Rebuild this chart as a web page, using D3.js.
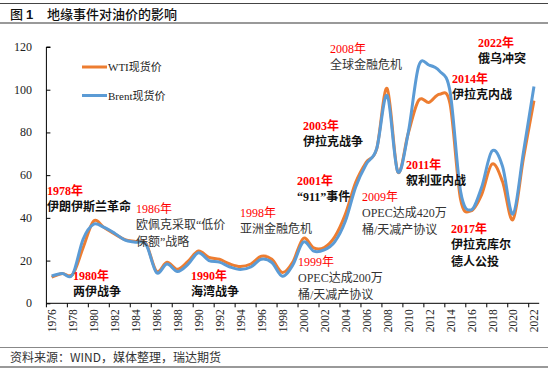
<!DOCTYPE html>
<html>
<head>
<meta charset="utf-8">
<script src="https://cdn.jsdelivr.net/npm/d3@7"></script>
<style>
  body { margin: 0; background: #fff; }
  svg { display: block; }
</style>
</head>
<body>
<div id="chart"></div>
<script>
// annual average spot prices, USD/bbl
var years = d3.range(1976, 2023);
var wti = [12.2, 14.0, 13.5, 26.0, 38.5, 35.5, 32.5, 29.8, 29.0, 28.0,
           15.0, 19.2, 15.9, 19.6, 24.5, 21.5, 20.6, 18.4, 17.2, 18.4,
           22.0, 20.6, 14.4, 19.3, 30.4, 25.9, 26.1, 31.1, 41.5, 56.6,
           66.0, 72.3, 100.6, 61.7, 79.4, 95.0, 94.1, 97.9, 93.3, 48.7,
           43.3, 50.8, 65.2, 57.0, 39.2, 68.0, 94.9];
var brent = [12.8, 13.9, 13.5, 30.0, 37.0, 35.5, 32.8, 29.6, 28.6, 27.6,
             14.4, 18.4, 14.9, 18.2, 23.7, 20.0, 19.3, 17.0, 15.8, 17.0,
             20.6, 19.1, 12.7, 17.9, 28.7, 24.4, 25.0, 28.8, 38.3, 54.5,
             65.1, 72.4, 97.3, 61.7, 79.6, 111.0, 111.5, 108.7, 99.0, 52.4,
             43.7, 54.2, 71.3, 64.2, 41.8, 70.9, 101.5];
var yTicks = [0, 20, 40, 60, 80, 100, 120];
var seriesNames = ["WTI现货价", "Brent现货价"];

var W = 554, H = 372;
var pLeft = 46.4, pRight = 539.2, pTop = 47, pBottom = 303.3;
var serif = "'Liberation Serif', 'Noto Sans CJK SC', serif";
var sans = "'Noto Sans CJK SC', 'Noto Sans', sans-serif";
var orange = "#ed7d31", blue = "#5b9bd5";

var svg = d3.select("#chart").append("svg")
    .attr("width", W)
    .attr("height", H);

// header / footer rules
svg.append("line").attr("x1", 0).attr("x2", 548).attr("y1", 3.5).attr("y2", 3.5)
    .attr("stroke", "#444").attr("stroke-width", 1);
svg.append("line").attr("x1", 0).attr("x2", 548).attr("y1", 23).attr("y2", 23)
    .attr("stroke", "#999").attr("stroke-width", 2);
svg.append("line").attr("x1", 0).attr("x2", 548).attr("y1", 347.5).attr("y2", 347.5)
    .attr("stroke", "#888").attr("stroke-width", 1);
svg.append("line").attr("x1", 0).attr("x2", 548).attr("y1", 367).attr("y2", 367)
    .attr("stroke", "#999").attr("stroke-width", 2);

var title = svg.append("text").attr("x", 10).attr("y", 19)
    .attr("font-family", sans).attr("font-size", 13).attr("font-weight", 500)
    .attr("fill", "#111");
title.append("tspan").text("图 ");
title.append("tspan").attr("font-family", "'Liberation Sans', sans-serif")
    .attr("font-weight", "bold").text("1");
title.append("tspan").attr("x", 47).text("地缘事件对油价的影响");

svg.append("text").attr("x", 10).attr("y", 361.5)
    .attr("font-family", sans).attr("font-size", 12).attr("fill", "#333")
    .text("资料来源：WIND，媒体整理，瑞达期货");

// scales
var x = d3.scaleBand().domain(years).range([pLeft, pRight]);
var y = d3.scaleLinear().domain([0, 120]).range([pBottom, pTop]);

// y axis, ticks pointing into the plot
var yAxis = svg.append("g")
    .attr("transform", "translate(" + pLeft + ",0)")
    .call(d3.axisRight(y).tickValues(yTicks).tickSize(4).tickFormat(""));
yAxis.select(".domain").attr("d", "M4," + pTop + "H0V" + pBottom).attr("stroke", "#000");
yAxis.selectAll(".tick line").attr("stroke", "#000");

svg.selectAll(".ylab")
    .data(yTicks)
    .enter()
    .append("text")
    .attr("class", "ylab")
    .attr("x", 32)
    .attr("y", function (d) { return y(d) + 4; })
    .attr("text-anchor", "end")
    .attr("font-family", serif)
    .attr("font-size", 12)
    .attr("fill", "#222")
    .text(function (d) { return d; });

// x axis: ticks at the left edge of every even year
var evenYears = years.filter(function (d) { return d % 2 === 0; });
var xAxis = svg.append("g").attr("transform", "translate(0," + pBottom + ")");
xAxis.append("line").attr("x1", pLeft).attr("x2", pRight).attr("stroke", "#000");
xAxis.selectAll(".xt")
    .data(evenYears)
    .enter()
    .append("line")
    .attr("class", "xt")
    .attr("x1", function (d) { return x(d); })
    .attr("x2", function (d) { return x(d); })
    .attr("y1", 0).attr("y2", 4)
    .attr("stroke", "#000");
xAxis.selectAll(".xl")
    .data(evenYears)
    .enter()
    .append("text")
    .attr("class", "xl")
    .attr("transform", function (d) {
        return "translate(" + (x(d) + x.bandwidth() / 2 + 4.5) + ",6) rotate(-90)";
    })
    .attr("text-anchor", "end")
    .attr("font-family", serif)
    .attr("font-size", 11.5)
    .attr("fill", "#222")
    .text(function (d) { return d; });

// lines
var line = d3.line()
    .x(function (d, i) { return x(years[i]) + x.bandwidth() / 2; })
    .y(function (d) { return y(d); })
    .curve(d3.curveCardinal.tension(0));

svg.append("path").datum(wti)
    .attr("d", line).attr("fill", "none")
    .attr("stroke", orange).attr("stroke-width", 3);
svg.append("path").datum(brent)
    .attr("d", line).attr("fill", "none")
    .attr("stroke", blue).attr("stroke-width", 3);

// legend
[orange, blue].forEach(function (c, i) {
    var ly = [67, 95.5][i];
    svg.append("line").attr("x1", 82).attr("x2", 107).attr("y1", ly).attr("y2", ly)
        .attr("stroke", c).attr("stroke-width", 3);
    svg.append("text").attr("x", 108).attr("y", ly + 4)
        .attr("font-family", serif).attr("font-size", 11).attr("fill", "#222")
        .text(seriesNames[i]);
});

// event notes: [x, y of first line, bold?, year text, description lines...]
var notes = [
    [47, 190, true, "1978年", "伊朗伊斯兰革命"],
    [136, 208, false, "1986年", "欧佩克采取“低价", "保额”战略"],
    [240, 212, false, "1998年", "亚洲金融危机"],
    [73, 275, true, "1980年", "两伊战争"],
    [191, 275, true, "1990年", "海湾战争"],
    [298, 261, false, "1999年", "OPEC达成200万", "桶/天减产协议"],
    [297, 180, true, "2001年", "“911”事件"],
    [303, 125, true, "2003年", "伊拉克战争"],
    [330, 48, false, "2008年", "全球金融危机"],
    [362, 196, false, "2009年", "OPEC达成420万", "桶/天减产协议"],
    [406, 164, true, "2011年", "叙利亚内战"],
    [452, 78, true, "2014年", "伊拉克内战"],
    [478, 42, true, "2022年", "俄乌冲突"],
    [451, 228, true, "2017年", "伊拉克库尔", "德人公投"]
];
notes.forEach(function (n) {
    var g = svg.append("g").attr("font-family", serif).attr("font-size", 12)
        .attr("font-weight", n[2] ? "bold" : "normal");
    g.append("text").attr("x", n[0]).attr("y", n[1] + 4.5)
        .attr("fill", "#ff0000").text(n[3]);
    n.slice(4).forEach(function (t, i) {
        g.append("text").attr("x", n[0]).attr("y", n[1] + 4.5 + 16.5 * (i + 1))
            .attr("fill", n[2] ? "#111" : "#333").text(t);
    });
});
</script>
</body>
</html>
